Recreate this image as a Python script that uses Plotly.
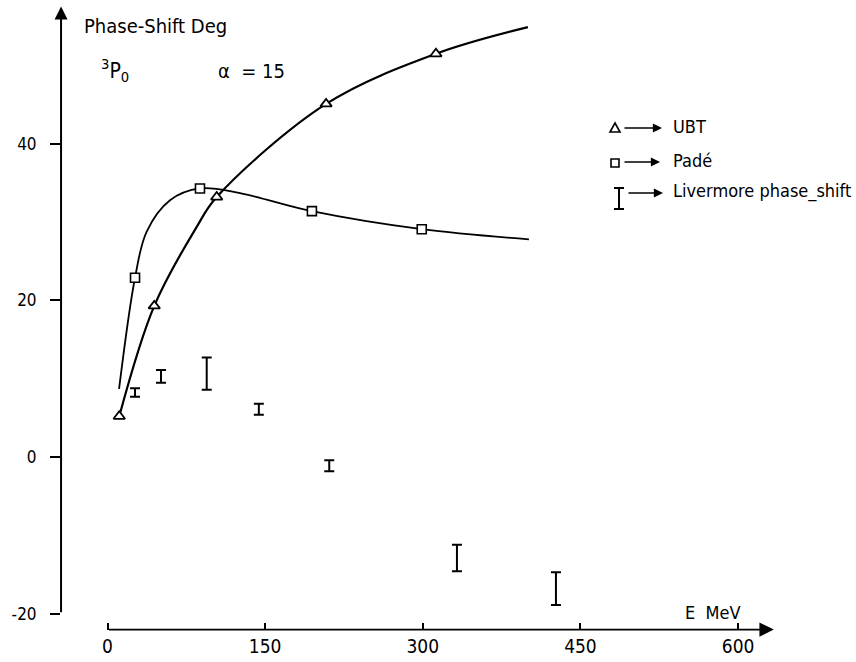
import plotly.graph_objects as go

# ---- data ----
ubt_e = [11.2, 44.5, 103.9, 208, 312.5]
ubt_d = [5.2, 19.3, 33.2, 45.1, 51.5]
ubt_curve_e = [11.2, 44.5, 84.9, 103.9, 208, 312.5, 400]
ubt_curve_d = [5.2, 19.3, 29.4, 33.2, 45.1, 51.5, 54.9]

pade_e = [26.2, 88, 194.5, 299]
pade_d = [22.9, 34.3, 31.4, 29.1]
pade_curve_e = [11, 26.2, 37.3, 59.5, 88, 126, 194.5, 299, 401]
pade_curve_d = [8.7, 22.9, 28.8, 32.8, 34.3, 33.7, 31.4, 29.1, 27.8]

liv_e = [26.2, 50.9, 94.4, 144, 211, 332.5, 426.7]
liv_d = [8.25, 10.3, 10.65, 6.1, -1.1, -12.9, -16.8]
liv_err = [0.55, 0.8, 2.05, 0.7, 0.7, 1.7, 2.1]

x_ticks = [0, 150, 300, 450, 600]
x_tick_labels = ["0", "150", "300", "450", "600"]
y_ticks = [-20, 0, 20, 40]
y_tick_labels = ["-20", "0", "20", "40"]

X_RANGE = [-44.24, 649.4]
Y_RANGE = [-22.09, 57.73]
X_ARROW_END = 634
Y_AXIS_BOTTOM = -20

FONT = "DejaVu Sans Condensed, DejaVu Sans, sans-serif"

W, H = 856, 662
ML, MR, MT, MB = 61, 66, 5, 32
PW, PH = W - ML - MR, H - MT - MB


def px(xp):
    return (xp - ML) / PW


def py(yp):
    return (H - MB - yp) / PH


fig = go.Figure()

fig.add_trace(go.Scatter(x=pade_curve_e, y=pade_curve_d, mode="lines",
                         line=dict(color="black", width=1.8, shape="spline", smoothing=1.0),
                         hoverinfo="skip"))
fig.add_trace(go.Scatter(x=ubt_curve_e, y=ubt_curve_d, mode="lines",
                         line=dict(color="black", width=2.2, shape="spline", smoothing=1.0),
                         hoverinfo="skip"))
fig.add_trace(go.Scatter(x=pade_e, y=pade_d, mode="markers",
                         marker=dict(symbol="square", size=9, color="white",
                                     line=dict(color="black", width=1.6))))
fig.add_trace(go.Scatter(x=ubt_e, y=ubt_d, mode="markers",
                         marker=dict(symbol="triangle-up", size=10, color="white",
                                     line=dict(color="black", width=1.8))))
fig.add_trace(go.Scatter(x=liv_e, y=liv_d, mode="markers",
                         marker=dict(size=2, color="rgba(0,0,0,0)"),
                         error_y=dict(type="data", array=liv_err, visible=True,
                                      color="black", thickness=2, width=5)))

annotations = []
# y axis with arrow
annotations.append(dict(x=X_RANGE[0] + 0.05, y=Y_RANGE[1] - 0.2, xref="x", yref="y",
                        ax=X_RANGE[0] + 0.05, ay=Y_AXIS_BOTTOM, axref="x", ayref="y",
                        text="", showarrow=True, arrowhead=2, arrowsize=1.3,
                        arrowwidth=2, arrowcolor="black"))
# x axis with arrow
annotations.append(dict(x=X_ARROW_END, y=Y_RANGE[0] + 0.05, xref="x", yref="y",
                        ax=0, ay=Y_RANGE[0] + 0.05, axref="x", ayref="y",
                        text="", showarrow=True, arrowhead=2, arrowsize=1.6,
                        arrowwidth=1.8, arrowcolor="black"))

# texts
annotations.append(dict(x=px(82), y=py(26), xref="paper", yref="paper",
                        xanchor="left", yanchor="middle", showarrow=False,
                        text="Phase-Shift Deg", font=dict(family=FONT, size=20, color="black")))
annotations.append(dict(x=px(99), y=py(70), xref="paper", yref="paper",
                        xanchor="left", yanchor="middle", showarrow=False,
                        text="<sup>3</sup>P<sub>0</sub>", font=dict(family=FONT, size=21, color="black")))
annotations.append(dict(x=px(216), y=py(71), xref="paper", yref="paper",
                        xanchor="left", yanchor="middle", showarrow=False,
                        text="α  = 15", font=dict(family=FONT, size=20, color="black")))
annotations.append(dict(x=px(713), y=py(612), xref="paper", yref="paper",
                        xanchor="center", yanchor="middle", showarrow=False,
                        text="E  MeV", font=dict(family=FONT, size=18, color="black")))

# legend
leg_font = dict(family=FONT, size=18, color="black")
for yy, x0, x1, label in [(128, 623, 662, "UBT"), (162, 623, 660, "Padé"),
                          (193, 627, 663, "Livermore phase_shift")]:
    annotations.append(dict(x=px(x1), y=py(yy), xref="paper", yref="paper",
                            ax=x0 - x1, ay=0, axref="pixel", ayref="pixel",
                            text="", showarrow=True, arrowhead=2, arrowsize=1.3,
                            arrowwidth=1.4, arrowcolor="black"))
    annotations.append(dict(x=px(671), y=py(yy - 2), xref="paper", yref="paper",
                            xanchor="left", yanchor="middle", showarrow=False,
                            text=label, font=leg_font))

tri = "M {:.5f},{:.5f} L {:.5f},{:.5f} L {:.5f},{:.5f} Z".format(
    px(610), py(132), px(620), py(132), px(615), py(123))
shapes = [
    dict(type="path", xref="paper", yref="paper", path=tri,
         line=dict(color="black", width=1.6), fillcolor="white"),
    dict(type="rect", xref="paper", yref="paper", x0=px(611), x1=px(619), y0=py(159), y1=py(167),
         line=dict(color="black", width=1.6), fillcolor="white"),
    dict(type="line", xref="paper", yref="paper", x0=px(619), x1=px(619), y0=py(188), y1=py(209),
         line=dict(color="black", width=2)),
    dict(type="line", xref="paper", yref="paper", x0=px(614), x1=px(624), y0=py(188), y1=py(188),
         line=dict(color="black", width=2)),
    dict(type="line", xref="paper", yref="paper", x0=px(614), x1=px(624), y0=py(209), y1=py(209),
         line=dict(color="black", width=2)),
]

fig.update_layout(
    width=W, height=H,
    margin=dict(l=ML, r=MR, t=MT, b=MB, pad=0),
    paper_bgcolor="white", plot_bgcolor="white",
    showlegend=False,
    annotations=annotations,
    shapes=shapes,
    font=dict(family=FONT, color="black"),
    xaxis=dict(range=X_RANGE, showgrid=False, zeroline=False, showline=False,
               ticks="inside", ticklen=7, tickwidth=1.6, tickcolor="black",
               tickvals=x_ticks, ticktext=x_tick_labels,
               tickfont=dict(family=FONT, size=19, color="black"),
               ticklabelstandoff=3, fixedrange=True),
    yaxis=dict(range=Y_RANGE, showgrid=False, zeroline=False, showline=False,
               ticks="outside", ticklen=10, tickwidth=2, tickcolor="black",
               tickvals=y_ticks, ticktext=y_tick_labels,
               tickfont=dict(family=FONT, size=17, color="black"),
               ticklabelstandoff=10, fixedrange=True),
)

fig.write_html("out.html")
